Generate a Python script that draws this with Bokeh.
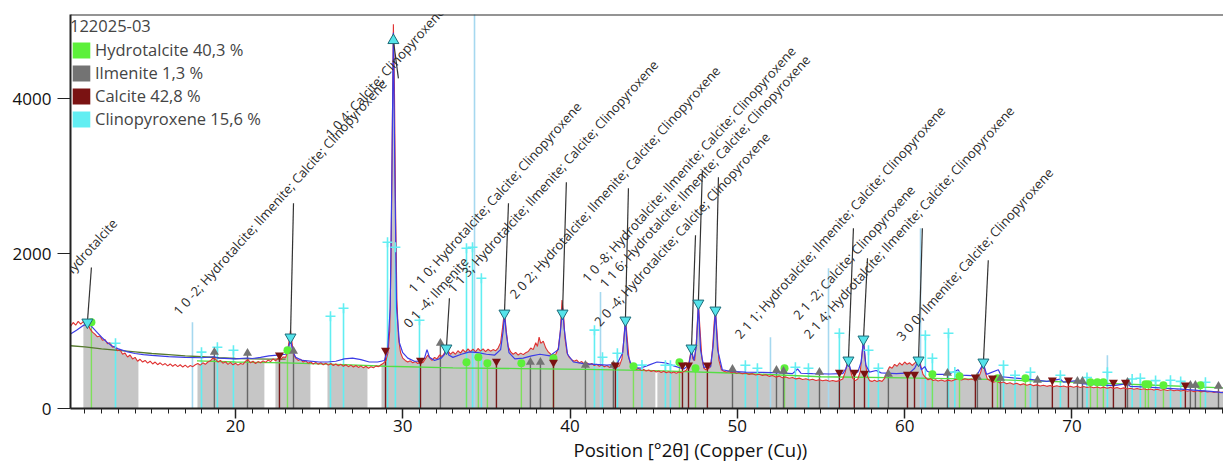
import numpy as np
from bokeh.plotting import figure
from bokeh.models import (Range1d, FixedTicker, Span, Legend, LegendItem, ColumnDataSource, Label, Title)
from bokeh.embed import file_html
from bokeh.resources import INLINE

# ---------------- data ----------------
sample_name = "122025-03"
phase_names = ["Hydrotalcite", "Ilmenite", "Calcite", "Clinopyroxene"]
phase_pct = ["40,3", "1,3", "42,8", "15,6"]
x_ticks = [20, 30, 40, 50, 60, 70]
y_ticks = [0, 2000, 4000]
x_label = "Position [°2θ] (Copper (Cu))"

observed = [
    (10.14,1060),(10.3,1110),(10.45,1075),(10.6,1125),(10.75,1090),(10.9,1120),(11.05,1100),(11.15,1120),
    (11.3,1030),(11.45,985),(11.6,960),(11.75,925),(11.9,935),(12.05,880),(12.2,890),(12.35,835),(12.5,850),
    (12.65,790),(12.8,800),(12.95,745),(13.1,760),(13.25,700),(13.4,715),(13.55,665),(13.7,690),(13.85,640),
    (14.0,660),(14.15,610),(14.3,635),(14.45,600),(14.6,620),(14.75,585),(14.9,610),(15.05,575),(15.2,600),
    (15.35,565),(15.5,590),(15.65,560),(15.8,580),(15.95,550),(16.1,575),(16.25,545),(16.4,570),(16.55,540),
    (16.7,565),(16.85,535),(17.0,560),(17.15,530),(17.3,555),(17.45,540),(17.6,565),(17.75,580),(17.9,560),
    (18.05,590),(18.2,570),(18.35,600),(18.5,615),(18.65,650),(18.8,640),(18.95,600),(19.1,620),(19.25,585),
    (19.4,605),(19.55,570),(19.7,595),(19.85,565),(20.0,585),(20.15,560),(20.3,580),(20.45,570),(20.6,610),
    (20.75,630),(20.9,590),(21.05,610),(21.2,580),(21.35,605),(21.5,590),(21.65,615),(21.8,595),(21.95,625),
    (22.1,605),(22.25,640),(22.4,615),(22.55,650),(22.7,630),(22.85,665),(23.0,660),(23.1,720),(23.2,860),
    (23.29,1010),(23.38,850),(23.48,700),(23.6,650),(23.75,620),(23.9,635),(24.05,600),(24.2,615),(24.35,585),
    (24.5,600),(24.65,575),(24.8,595),(24.95,570),(25.1,590),(25.25,565),(25.4,585),(25.55,560),(25.7,580),
    (25.85,555),(26.0,575),(26.15,550),(26.3,570),(26.45,545),(26.6,565),(26.75,540),(26.9,560),(27.05,535),
    (27.2,555),(27.35,530),(27.5,550),(27.65,525),(27.8,545),(27.95,520),(28.1,540),(28.25,525),(28.4,550),
    (28.55,540),(28.7,565),(28.85,585),(29.0,620),(29.12,720),(29.22,1000),(29.3,1900),(29.37,3500),
    (29.44,4960),(29.5,4200),(29.57,2600),(29.65,1400),(29.75,900),(29.87,720),(30.0,650),(30.15,620),
    (30.3,600),(30.45,615),(30.6,590),(30.75,605),(30.9,580),(31.05,600),(31.2,590),(31.35,640),(31.5,690),
    (31.62,650),(31.75,620),(31.9,660),(32.05,640),(32.2,690),(32.35,670),(32.5,720),(32.61,810),(32.72,740),
    (32.85,700),(33.0,730),(33.15,700),(33.3,745),(33.45,715),(33.6,760),(33.75,725),(33.9,770),(34.05,735),
    (34.2,765),(34.35,730),(34.5,775),(34.65,740),(34.8,770),(34.95,735),(35.1,765),(35.25,740),(35.4,760),
    (35.55,745),(35.7,780),(35.85,850),(35.97,1050),(36.08,1260),(36.18,1020),(36.3,800),(36.45,730),
    (36.6,700),(36.75,725),(36.9,690),(37.05,715),(37.2,695),(37.35,720),(37.5,735),(37.65,780),(37.8,760),
    (37.95,850),(38.05,800),(38.15,920),(38.25,840),(38.4,870),(38.55,780),(38.7,730),(38.85,700),(39.0,690),
    (39.15,700),(39.3,780),(39.42,1000),(39.52,1400),(39.6,1250),(39.7,900),(39.82,720),(39.95,660),
    (40.1,630),(40.25,610),(40.4,625),(40.55,590),(40.7,605),(40.85,575),(41.0,590),(41.15,565),(41.3,580),
    (41.45,555),(41.6,570),(41.75,545),(41.9,560),(42.05,540),(42.2,555),(42.35,530),(42.5,545),(42.65,525),
    (42.8,540),(42.95,550),(43.1,640),(43.22,900),(43.31,1170),(43.4,950),(43.52,650),(43.65,540),(43.8,520),
    (43.95,505),(44.1,515),(44.25,495),(44.4,505),(44.55,485),(44.7,498),(44.85,478),(45.0,490),(45.15,470),
    (45.3,485),(45.45,465),(45.6,480),(45.75,462),(45.9,475),(46.05,458),(46.2,472),(46.35,455),(46.5,470),
    (46.65,462),(46.8,478),(46.95,495),(47.08,560),(47.18,680),(47.26,770),(47.34,640),(47.45,620),
    (47.56,900),(47.67,1360),(47.76,1050),(47.88,650),(48.0,520),(48.12,500),(48.25,510),(48.4,540),
    (48.52,780),(48.62,1120),(48.69,1270),(48.78,1000),(48.9,620),(49.05,500),(49.2,480),(49.35,470),
    (49.5,478),(49.65,462),(49.8,470),(49.95,455),(50.1,465),(50.3,448),(50.5,458),(50.7,440),(50.9,450),
    (51.1,432),(51.3,442),(51.5,425),(51.7,435),(51.9,415),(52.1,425),(52.3,405),(52.5,418),(52.7,398),
    (52.9,408),(53.1,390),(53.3,400),(53.5,382),(53.7,392),(53.9,374),(54.1,385),(54.3,368),(54.5,378),
    (54.7,362),(54.9,372),(55.1,358),(55.3,368),(55.5,352),(55.7,362),(55.9,350),(56.1,360),(56.3,380),
    (56.45,470),(56.56,580),(56.64,620),(56.74,500),(56.9,390),(57.05,360),(57.2,380),(57.35,480),
    (57.46,720),(57.54,890),(57.63,650),(57.76,420),(57.9,360),(58.05,350),(58.2,365),(58.35,348),
    (58.5,362),(58.65,350),(58.8,390),(58.95,470),(59.1,540),(59.25,520),(59.4,570),(59.55,545),(59.7,590),
    (59.85,560),(60.0,600),(60.15,570),(60.3,590),(60.45,555),(60.6,585),(60.72,610),(60.83,650),
    (60.95,560),(61.1,440),(61.25,400),(61.4,370),(61.55,385),(61.7,360),(61.85,372),(62.0,355),(62.2,368),
    (62.4,352),(62.6,366),(62.8,355),(63.0,372),(63.2,380),(63.4,368),(63.6,385),(63.8,372),(64.0,380),
    (64.2,365),(64.4,385),(64.55,470),(64.65,560),(64.71,590),(64.8,480),(64.95,380),(65.1,360),(65.3,340),
    (65.5,352),(65.7,330),(65.9,342),(66.1,320),(66.3,332),(66.5,312),(66.7,325),(66.9,305),(67.1,318),
    (67.3,300),(67.5,312),(67.7,295),(67.9,305),(68.1,290),(68.3,300),(68.5,286),(68.7,296),(68.9,282),
    (69.1,293),(69.3,280),(69.5,290),(69.7,277),(69.9,288),(70.1,275),(70.3,286),(70.5,272),(70.7,283),
    (70.9,270),(71.1,281),(71.3,268),(71.5,278),(71.7,265),(71.9,276),(72.1,262),(72.3,273),(72.5,260),
    (72.7,270),(72.9,256),(73.1,266),(73.3,252),(73.5,262),(73.7,248),(73.9,258),(74.1,245),(74.3,255),
    (74.5,242),(74.7,251),(74.9,238),(75.1,248),(75.3,235),(75.5,245),(75.7,232),(75.9,242),(76.1,228),
    (76.3,238),(76.5,225),(76.7,235),(76.9,222),(77.1,232),(77.3,218),(77.5,228),(77.7,215),(77.9,224),
    (78.1,212),(78.3,220),(78.5,208),(78.7,216),(78.9,205),(79.06,212),
]

calculated = [
    (10.14,960),(10.5,1010),(10.9,1070),(11.15,1095),(11.4,1060),(11.7,990),(12.0,920),(12.3,860),
    (12.6,810),(13.0,770),(13.5,735),(14.0,710),(14.5,695),(15.0,685),(16.0,670),(17.0,660),(18.0,655),
    (18.7,668),(19.0,650),(20.0,640),(20.7,652),(21.0,645),(21.5,660),(22.0,680),(22.5,690),(23.0,700),
    (23.15,760),(23.29,900),(23.42,740),(23.6,660),(24.0,620),(25.0,600),(25.5,600),(26.0,610),(26.5,640),
    (27.0,650),(27.5,630),(28.0,600),(28.5,600),(28.9,620),(29.1,750),(29.25,1300),(29.35,3000),
    (29.44,4850),(29.53,3000),(29.63,1300),(29.8,850),(30.0,720),(30.3,650),(30.7,610),(31.0,610),
    (31.3,650),(31.45,760),(31.6,660),(31.9,620),(32.3,650),(32.5,700),(32.61,800),(32.75,690),(33.0,660),
    (33.5,700),(34.0,730),(34.5,720),(35.0,700),(35.5,690),(35.85,760),(36.0,1000),(36.08,1220),
    (36.18,980),(36.35,720),(36.7,640),(37.2,650),(37.7,680),(38.2,700),(38.8,680),(39.3,760),(39.45,1050),
    (39.55,1300),(39.65,1030),(39.85,700),(40.2,600),(40.8,580),(41.5,570),(42.2,560),(42.8,570),
    (43.15,720),(43.31,1130),(43.45,700),(43.7,530),(44.2,520),(44.7,560),(45.2,600),(45.7,590),(46.2,550),
    (46.8,510),(47.1,560),(47.26,760),(47.4,620),(47.55,800),(47.67,1340),(47.8,760),(48.0,530),(48.4,540),
    (48.55,800),(48.69,1260),(48.82,760),(49.1,500),(49.6,480),(50.5,470),(51.5,465),(52.5,460),(53.3,450),
    (53.6,510),(53.8,455),(54.5,450),(55.5,445),(56.3,450),(56.5,520),(56.64,600),(56.8,480),(57.2,470),
    (57.4,600),(57.54,880),(57.68,560),(57.9,470),(58.3,490),(58.6,460),(59.5,450),(60.3,460),(60.6,520),
    (60.83,620),(61.0,500),(61.2,540),(61.35,480),(61.8,440),(62.6,440),(63.2,500),(63.4,430),(64.3,420),
    (64.55,520),(64.71,580),(64.9,440),(65.6,500),(65.8,410),(66.5,395),(67.5,375),(68.5,350),(69.3,380),
    (69.5,340),(70.3,360),(70.6,320),(71.5,305),(72.5,295),(73.3,320),(73.5,285),(74.5,275),(75.5,262),
    (76.5,250),(77.5,235),(78.3,222),(79.06,205),
]

background = [
    (10.14,810),(11,795),(12,770),(13,750),(14,730),(15,710),(16,695),(17,680),(18,668),(19,655),
    (20,645),(21,640),(22,638),(23,636),
]

green_profile = [
    (17.7,615),(20,600),(23,590),(26,570),(29,545),(33,525),(37,515),(41,505),(45,490),(50,455),
    (55,410),(60,395),(65,375),(70,340),(75,300),(79.06,265),
]

gray_ranges = [(10.91,14.2),(17.73,21.73),(22.39,24.48),(25.5,27.89),(28.73,45.1),(45.22,79.06)]

cpx_pos = [12.83,17.97,18.92,19.88,25.68,26.46,29.09,29.56,31.0,33.81,34.17,34.70,41.46,41.94,42.83,
           44.3,45.70,46.0,50.48,51.2,53.47,54.25,56.10,57.84,58.43,61.24,61.66,62.62,63.0,65.91,66.6,
           67.52,69.31,70.9,72.12,73.6,74.09,75.0,75.89,76.5,77.98]
cpx_int = [842,727,791,752,1191,1294,2145,2081,1139,2068,2081,1681,1011,662,713,
           560,559,559,559,520,533,520,971,752,520,945,649,971,470,559,430,
           468,430,400,468,380,391,360,365,350,339]

lightblue_pos = [17.43,34.29,41.82,51.98,55.45,60.95,72.12]
lightblue_int = [1114,6000,1502,920,1810,2326,688]

hyd_pos = [11.39,23.11,33.81,34.52,35.06,37.09,39.01,43.79,46.54,47.50,52.82,61.66,63.28,65.55,67.22,
           71.11,71.52,71.88,74.39,74.57,75.47,77.68]
hyd_int = [1114,752,597,662,584,584,649,546,597,520,520,442,417,391,391,339,339,339,314,314,301,301]

ilm_pos = [18.74,20.72,23.47,32.25,37.63,38.23,40.92,42.59,49.71,52.34,52.76,54.91,59.03,62.56,64.35,
           65.73,67.94,70.33,70.63,73.32,77.08,77.38,78.76]
ilm_int = [727,713,739,842,597,597,559,559,507,494,481,468,442,455,404,391,365,352,352,339,301,301,288]

cal_pos = [22.63,28.97,31.06,35.60,39.01,42.71,46.72,47.08,48.21,56.10,56.99,57.60,60.17,60.59,64.23,
           65.25,68.83,69.79,72.48,73.20,76.78]
cal_int = [688,752,623,610,597,559,559,559,559,468,468,455,442,442,404,391,365,365,339,339,301]

label_text = [
    "0 0 3; Hydrotalcite",
    "1 0 -2; Hydrotalcite; Ilmenite; Calcite; Clinopyroxene",
    "1 0 4; Calcite; Clinopyroxene",
    "0 1 -4; Ilmenite",
    "1 1 0; Hydrotalcite; Calcite; Clinopyroxene",
    "1 1 3; Hydrotalcite; Ilmenite; Calcite; Clinopyroxene",
    "2 0 2; Hydrotalcite; Ilmenite; Calcite; Clinopyroxene",
    "2 0 -4; Hydrotalcite; Calcite; Clinopyroxene",
    "1 0 -8; Hydrotalcite; Ilmenite; Calcite; Clinopyroxene",
    "1 1 6; Hydrotalcite; Ilmenite; Calcite; Clinopyroxene",
    "2 1 1; Hydrotalcite; Ilmenite; Calcite; Clinopyroxene",
    "2 1 -2; Calcite; Clinopyroxene",
    "2 1 4; Hydrotalcite; Ilmenite; Calcite; Clinopyroxene",
    "3 0 0; Ilmenite; Calcite; Clinopyroxene",
]
label_peak_x = [11.15,23.29,29.44,32.61,36.08,39.55,43.31,47.26,47.67,48.69,56.64,57.54,60.83,64.71]
label_peak_y = [1113,920,4751,778,1229,1229,1139,778,1358,1268,623,894,623,597]
label_top_x = [11.39,23.47,29.74,32.79,36.32,39.78,43.49,47.50,47.91,48.87,56.94,57.78,61.06,65.0]
label_top_y = [1819,2649,4261,1423,2649,2919,2842,2236,3075,2984,2326,1939,2326,1913]

# ---------------- styling ----------------
FONT = "Open Sans"
C_HYD = "#5cf03a"
C_ILM = "#737373"
C_CAL = "#7a1212"
C_CPX = "#62eef2"

obs_x = np.array([a for a, b in observed])
obs_y = np.array([b for a, b in observed])

p = figure(width=1223, height=463, output_backend="svg", toolbar_location=None,
           x_range=Range1d(10.14, 79.06), y_range=Range1d(0, 5085),
           min_border_left=70, min_border_right=0, min_border_top=14, min_border_bottom=55)
p.outline_line_color = None
p.grid.visible = False
p.background_fill_color = "white"

# gray fill under observed pattern
for a, b in gray_ranges:
    m = (obs_x > a) & (obs_x < b)
    xs = np.concatenate([[a], obs_x[m], [b]])
    ys = np.interp(xs, obs_x, obs_y)
    p.varea(x=xs, y1=0, y2=ys, fill_color="#c6c6c6")

# reference sticks
p.segment(x0=lightblue_pos, y0=0, x1=lightblue_pos, y1=lightblue_int, line_color="#a6d8ef", line_width=1.6)
p.segment(x0=cpx_pos, y0=0, x1=cpx_pos, y1=cpx_int, line_color=C_CPX, line_width=1.6)
p.segment(x0=hyd_pos, y0=0, x1=hyd_pos, y1=hyd_int, line_color="#7ee05a", line_width=1.4)
p.segment(x0=ilm_pos, y0=0, x1=ilm_pos, y1=ilm_int, line_color="#666666", line_width=1.4)
p.segment(x0=cal_pos, y0=0, x1=cal_pos, y1=cal_int, line_color="#7a1a1a", line_width=1.4)

# background and profiles
p.line([a for a, b in background], [b for a, b in background], line_color="#567a2e", line_width=1.3)
p.line([a for a, b in green_profile], [b for a, b in green_profile], line_color="#55dd44", line_width=1.3)
p.line(obs_x, obs_y, line_color="#e03232", line_width=1.1)
p.line([a for a, b in calculated], [b for a, b in calculated], line_color="#3c3ce6", line_width=1.2)

# phase markers
p.scatter(cpx_pos, cpx_int, marker="cross", size=10, line_color=C_CPX, line_width=1.6)
p.scatter(hyd_pos, hyd_int, marker="circle", size=8, fill_color=C_HYD, line_color=None)
p.scatter(ilm_pos, ilm_int, marker="triangle", size=9, fill_color=C_ILM, line_color=None)
p.scatter(cal_pos, cal_int, marker="inverted_triangle", size=9, fill_color=C_CAL, line_color=None)

# peak labels
lab = ColumnDataSource(dict(
    px=label_peak_x, py=label_peak_y, tx=label_top_x, ty=label_top_y,
    marker=["triangle" if py > ty else "inverted_triangle" for py, ty in zip(label_peak_y, label_top_y)],
))
p.segment(x0="tx", y0="ty", x1="px", y1="py", source=lab, line_color="#333333", line_width=1.2)
p.scatter(x="px", y="py", marker="marker", source=lab, size=11, fill_color="#55e3ea",
          line_color="#1d6a78", line_width=1)
for t, tx, ty in zip(label_text, label_top_x, label_top_y):
    p.add_layout(Label(x=tx, y=ty, text=t, angle=np.deg2rad(48), text_align="center",
                       text_baseline="bottom", x_offset=-7, y_offset=0,
                       text_font=FONT, text_font_size="13px", text_color="#2b2b2b"))

# top border
p.add_layout(Span(location=p.y_range.end, dimension="width", line_color="#2a2a2a", line_width=2))

# axes
p.xaxis.ticker = FixedTicker(ticks=x_ticks, minor_ticks=list(range(11, 80)))
p.yaxis.ticker = FixedTicker(ticks=y_ticks, minor_ticks=[])
for ax in (p.xaxis[0], p.yaxis[0]):
    ax.axis_line_width = 2
    ax.axis_line_color = "#222222"
    ax.major_tick_in = 0
    ax.minor_tick_in = 0
    ax.major_tick_line_color = "#222222"
    ax.minor_tick_line_color = "#222222"
    ax.major_label_text_font = FONT
    ax.major_label_text_font_size = "17px"
    ax.major_label_text_color = "#111111"
p.xaxis.major_tick_out = 10
p.xaxis.minor_tick_out = 5
p.xaxis.major_tick_line_width = 1.5
p.xaxis.major_label_standoff = 1
p.yaxis.major_tick_out = 13
p.yaxis.minor_tick_out = 0
p.yaxis.major_label_standoff = 6

# x-axis title (placed as in the original export, whose scan continues past the crop)
p.add_layout(Title(text=x_label, align="left", offset=503, text_font=FONT, text_font_size="18.5px",
                   text_font_style="normal", text_color="#111111", standoff=0), "below")

# legend (swatches only; NaN geometry keeps them off the plot)
leg_colors = [C_HYD, C_ILM, C_CAL, C_CPX]
items = []
for name, pct, col in zip(phase_names, phase_pct, leg_colors):
    r = p.quad(left=[np.nan], right=[np.nan], top=[np.nan], bottom=[np.nan], fill_color=col, line_color=None)
    items.append(LegendItem(label=f"{name} {pct} %", renderers=[r]))
legend = Legend(items=items, title=sample_name, location="top_left",
                glyph_width=22, glyph_height=20, label_height=20, spacing=0, padding=2, margin=0,
                border_line_color=None, background_fill_alpha=0,
                label_text_font=FONT, label_text_font_size="16.5px", label_standoff=3,
                title_text_font=FONT, title_text_font_size="16.5px", title_text_font_style="normal",
                title_standoff=1)
p.add_layout(legend)

open("out.html", "w").write(file_html(p, INLINE))
